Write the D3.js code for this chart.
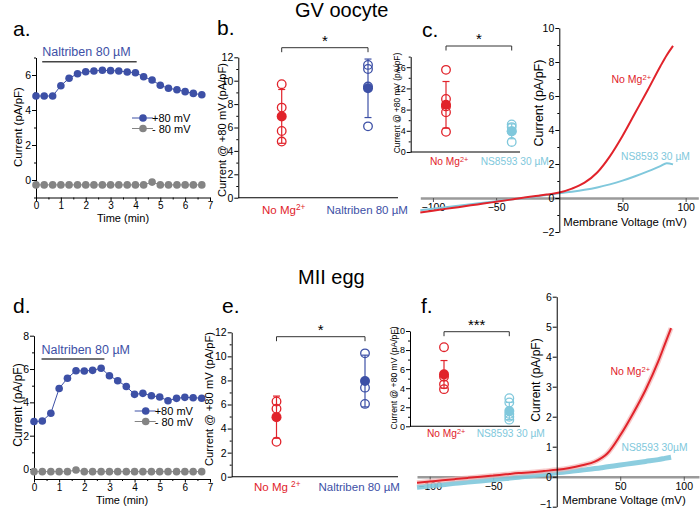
<!DOCTYPE html>
<html><head><meta charset="utf-8">
<script src="https://cdnjs.cloudflare.com/ajax/libs/d3/7.8.5/d3.min.js"></script>
<style>body{margin:0;background:#fff}svg{display:block;font-family:"Liberation Sans",Arial,sans-serif}</style>
</head><body><svg id="c" width="700" height="509"></svg>
<script>
const BLUE="#3d50a6", RED="#e1232b", LBLUE="#80c8dc", GRAY="#848484";
const FONT='"Liberation Sans",Arial,sans-serif';

// ---- time courses (min) ----
const timeMin = [0,0.33,0.67,1,1.33,1.67,2,2.33,2.67,3,3.33,3.67,4,4.33,4.67,5,5.33,5.67,6,6.33,6.67];
const gvPos80 = [4.8,4.8,4.8,5.39,5.81,6.07,6.19,6.23,6.27,6.25,6.23,6.17,6.13,5.9,5.71,5.41,5.24,5.16,5.05,4.95,4.87];
const gvNeg80 = [-0.28,-0.28,-0.28,-0.28,-0.28,-0.28,-0.28,-0.28,-0.28,-0.28,-0.28,-0.28,-0.28,-0.28,-0.12,-0.28,-0.28,-0.28,-0.28,-0.28,-0.28];
const miiPos80 = [2.85,2.88,3.35,4.83,5.45,5.9,5.88,5.92,6.05,5.6,5.3,4.95,4.48,4.54,4.4,4.32,4.1,4.24,4.3,4.28,4.25];
const miiNeg80 = [-0.16,-0.16,-0.16,-0.16,-0.16,-0.06,-0.16,-0.16,-0.16,-0.16,-0.16,-0.16,-0.16,-0.16,-0.16,-0.16,-0.16,-0.16,-0.16,-0.16,-0.16];
const timeTicks = [0,1,2,3,4,5,6,7];
const gvDrug = [0.25,4.05];
const miiDrug = [0.3,2.8];

// ---- dot plots: current @ +80 mV (pA/pF) ----
const gvNaltCats = ["No Mg2+","Naltriben 80 µM"];
const gvNaltVals = [[9.7,7.7,5.7,4.8],[11.35,11.0,9.5,6.1]];
const gvNaltMean = [6.95,9.35];
const gvNaltSD = [2.3,2.5];
const gvNSCats = ["No Mg2+","NS8593 30 µM"];
const gvNSVals = [[15.5,10.0,8.6,7.5,3.8],[5.2,4.7,3.9,1.9]];
const gvNSMean = [8.9,3.9];
const gvNSSD = [4.4,1.4];
const miiNaltVals = [[6.25,5.65,2.9],[10.25,7.4,6.05]];
const miiNaltMean = [4.95,7.95];
const miiNaltSD = [1.75,2.15];
const miiNSVals = [[8.3,5.2,4.4,3.9],[2.95,2.5,1.3,1.0,0.7]];
const miiNSMean = [5.45,1.6];
const miiNSSD = [1.45,0.9];

// ---- I-V curves ----
const voltage = [-110,-100,-90,-80,-70,-60,-50,-40,-30,-20,-10,0,10,20,30,40,50,60,70,80,85,90];
const gvIVNoMg = [-0.85,-0.75,-0.64,-0.54,-0.43,-0.33,-0.22,-0.11,0.0,0.1,0.2,0.32,0.55,0.9,1.5,2.45,3.65,5.0,6.35,7.75,8.4,8.95];
const gvIVNS = [-0.72,-0.63,-0.54,-0.45,-0.37,-0.28,-0.19,-0.1,-0.01,0.08,0.18,0.28,0.37,0.48,0.62,0.8,1.02,1.28,1.57,1.88,2.05,1.98];
const miiIVNoMg = [-0.2,-0.16,-0.12,-0.08,-0.04,0.0,0.04,0.08,0.12,0.15,0.19,0.23,0.29,0.38,0.5,0.78,1.38,2.1,2.9,3.85,4.4,4.95];
const miiIVNS = [-0.35,-0.31,-0.27,-0.22,-0.18,-0.14,-0.1,-0.06,-0.02,0.03,0.08,0.13,0.17,0.22,0.27,0.33,0.39,0.45,0.51,0.57,0.61,0.65];

const svg = d3.select("#c");

function txt(x,y,s,o={}){
  const t=svg.append("text").attr("x",x).attr("y",y).text(s)
    .attr("font-size",o.size||11).attr("fill",o.fill||"#000")
    .attr("text-anchor",o.anchor||"start").attr("font-family",FONT);
  if(o.rotate) t.attr("transform",`rotate(-90,${x},${y})`).attr("dominant-baseline","middle");
  return t;
}
function supTxt(x,y,base,sup,o={}){
  const t=txt(x,y,base,o);
  t.append("tspan").attr("dy","-0.45em").attr("font-size",(o.size||11)*0.72).text(sup);
  return t;
}
function styleAxis(g,fs,col){
  g.attr("font-family",FONT).attr("font-size",fs);
  g.selectAll("text").attr("fill","#000");
  g.selectAll("line").attr("stroke",col||"#000");
  g.select(".domain").attr("stroke",col||"#000");
}
function yAxis(scale,x,major,minor,fs,fmt){
  const g=svg.append("g").attr("transform",`translate(${x},0)`);
  g.call(d3.axisLeft(scale).tickValues(major).tickSize(4).tickSizeOuter(0).tickPadding(1).tickFormat(fmt||d3.format("d")));
  if(minor){const m=g.append("g").call(d3.axisLeft(scale).tickValues(minor).tickSize(2).tickFormat(""));m.select(".domain").remove();}
  styleAxis(g,fs);
  return g;
}
function xAxisTime(scale,y){
  const g=svg.append("g").attr("transform",`translate(0,${y})`);
  g.call(d3.axisBottom(scale).tickValues(timeTicks).tickSize(3.5).tickSizeOuter(0).tickPadding(1).tickFormat(d3.format("d")));
  const m=g.append("g").call(d3.axisBottom(scale).tickValues(timeTicks.slice(0,-1).map(t=>t+0.5)).tickSize(2).tickFormat(""));
  m.select(".domain").remove();
  styleAxis(g,10);
}

// ---------- time course panel ----------
function timePanel(xs,ys,pos,neg,drug,barY,legY,legX){
  const line=d3.line().x((d,i)=>xs(timeMin[i])).y(d=>ys(d));
  svg.append("path").attr("d",line(pos)).attr("fill","none").attr("stroke",BLUE).attr("stroke-width",1);
  svg.append("path").attr("d",line(neg)).attr("fill","none").attr("stroke",GRAY).attr("stroke-width",1);
  svg.append("g").selectAll("circle").data(neg).join("circle")
    .attr("cx",(d,i)=>xs(timeMin[i])).attr("cy",d=>ys(d)).attr("r",3.8).attr("fill",GRAY);
  svg.append("g").selectAll("circle").data(pos).join("circle")
    .attr("cx",(d,i)=>xs(timeMin[i])).attr("cy",d=>ys(d)).attr("r",3.8).attr("fill",BLUE);
  svg.append("line").attr("x1",xs(drug[0])).attr("x2",xs(drug[1])).attr("y1",barY).attr("y2",barY)
    .attr("stroke","#444").attr("stroke-width",1.6);
  txt(xs(drug[0]),barY-5.5,"Naltriben 80 µM",{size:12.5,fill:BLUE});
  [[BLUE,"+80 mV",0],[GRAY,"- 80 mV",10.5]].forEach(([c,l,dy])=>{
    svg.append("line").attr("x1",legX-11).attr("x2",legX+10).attr("y1",legY+dy).attr("y2",legY+dy).attr("stroke",c).attr("stroke-width",1);
    svg.append("circle").attr("cx",legX).attr("cy",legY+dy).attr("r",3.8).attr("fill",c);
    txt(legX+9,legY+dy+4,l,{size:11});
  });
}

// Panel a
{
  const xs=d3.scaleLinear([0,7],[36,210]);
  const ys=d3.scaleLinear([-1,7],[197.5,57.5]);
  yAxis(ys,36,[0,2,4,6],[-1,1,3,5,7],10.5);
  xAxisTime(xs,197.5);
  timePanel(xs,ys,gvPos80,gvNeg80,gvDrug,61.7,118,143);
  txt(19,127,"Current (pA/pF)",{size:11.5,anchor:"middle",rotate:true});
  txt(123,222,"Time (min)",{size:11,anchor:"middle"});
  txt(13,36,"a.",{size:21});
}
// Panel d
{
  const xs=d3.scaleLinear([0,7],[34,210]);
  const ys=d3.scaleLinear([-0.6,8],[479,335.7]);
  yAxis(ys,34,[0,2,4,6,8],[1,3,5,7],10.5);
  xAxisTime(xs,479);
  timePanel(xs,ys,miiPos80,miiNeg80,miiDrug,359,411,145.7);
  txt(19,405,"Current (pA/pF)",{size:12,anchor:"middle",rotate:true});
  txt(122,504,"Time (min)",{size:11,anchor:"middle"});
  txt(13,313,"d.",{size:21});
}

// ---------- dot plot panel ----------
function dotPanel(ys,xPos,vals,means,sds,colors,o){
  yAxis(ys,o.axX,o.major,o.minor,o.fs);
  svg.append("line").attr("x1",o.axX).attr("x2",o.axEnd).attr("y1",ys(0)).attr("y2",ys(0)).attr("stroke","#000").attr("stroke-width",1.1);
  const r=o.r||4.3;
  xPos.forEach((x,i)=>{
    const c=colors[i];
    const lo=ys(means[i]-sds[i]), hi=ys(means[i]+sds[i]);
    svg.append("line").attr("x1",x).attr("x2",x).attr("y1",lo).attr("y2",hi).attr("stroke",c).attr("stroke-width",1.2);
    [lo,hi].forEach(yy=>svg.append("line").attr("x1",x-3.5).attr("x2",x+3.5).attr("y1",yy).attr("y2",yy).attr("stroke",c).attr("stroke-width",1.2));
    svg.append("g").selectAll("circle").data(vals[i]).join("circle")
      .attr("cx",x).attr("cy",d=>ys(d)).attr("r",r).attr("fill","none").attr("stroke",c).attr("stroke-width",1.3);
    svg.append("circle").attr("cx",x).attr("cy",ys(means[i])).attr("r",r+0.7).attr("fill",c);
  });
  const by=o.brY;
  svg.append("path").attr("d",`M${xPos[0]},${by+4.5}V${by}H${xPos[1]}V${by+4.5}`).attr("fill","none").attr("stroke","#333").attr("stroke-width",1);
  txt((xPos[0]+xPos[1])/2,by-2,o.star,{size:o.starSize||15,anchor:"middle"});
}

// Panel b
{
  const ys=d3.scaleLinear([0,12],[197.7,57.3]);
  const xp=d3.scalePoint(gvNaltCats,[281.7,368]);
  const xPos=gvNaltCats.map(c=>xp(c));
  dotPanel(ys,xPos,gvNaltVals,gvNaltMean,gvNaltSD,[RED,BLUE],{axX:238.3,axEnd:398,major:[0,2,4,6,8,10,12],minor:[1,3,5,7,9,11],fs:10.5,brY:47.7,star:"*"});
  supTxt(262,214,"No Mg","2+",{size:11.5,fill:RED});
  txt(326.5,214,"Naltriben 80 µM",{size:11.5,fill:BLUE});
  txt(223,130,"Current @ +80 mV (pA/pF)",{size:11.2,anchor:"middle",rotate:true});
  txt(217,35,"b.",{size:21});
  txt(295,17,"GV oocyte",{size:20});
}
// Panel e
{
  const ys=d3.scaleLinear([0,12],[476.7,332.3]);
  const xp=d3.scalePoint(gvNaltCats,[276.5,365]);
  const xPos=gvNaltCats.map(c=>xp(c));
  dotPanel(ys,xPos,miiNaltVals,miiNaltMean,miiNaltSD,[RED,BLUE],{axX:231.7,axEnd:398,major:[0,2,4,6,8,10,12],minor:[1,3,5,7,9,11],fs:10.5,brY:336.7,star:"*"});
  supTxt(254,491,"No Mg ","2+",{size:11.5,fill:RED});
  txt(318.5,491,"Naltriben 80 µM",{size:11.5,fill:BLUE});
  txt(210,399,"Current @ +80 mV (pA/pF)",{size:11.2,anchor:"middle",rotate:true});
  txt(222,313,"e.",{size:21});
  txt(298,284,"MII egg",{size:20});
}
// Panel c inset
{
  const ys=d3.scaleLinear([0,18],[152,56.6]);
  const xp=d3.scalePoint(gvNSCats,[446,511.7]);
  const xPos=gvNSCats.map(c=>xp(c));
  dotPanel(ys,xPos,gvNSVals,gvNSMean,gvNSSD,[RED,LBLUE],{axX:410.7,axEnd:520,major:[0,4,8,12,16],minor:[2,6,10,14,18],fs:9,brY:46,star:"*"});
  supTxt(430,165,"No Mg","2+",{size:10.2,fill:RED});
  txt(480.7,165,"NS8593 30 µM",{size:10.2,fill:LBLUE});
  txt(398,103,"Current @ +80 mV (pA/pF)",{size:8.4,anchor:"middle",rotate:true});
  txt(422,37,"c.",{size:21});
}
// Panel f inset
{
  const ys=d3.scaleLinear([0,10],[426.3,331]);
  const xp=d3.scalePoint(gvNSCats,[444,509.3]);
  const xPos=gvNSCats.map(c=>xp(c));
  dotPanel(ys,xPos,miiNSVals,miiNSMean,miiNSSD,[RED,LBLUE],{axX:410,axEnd:520,major:[0,2,4,6,8,10],minor:[1,3,5,7,9],fs:9,brY:331.7,star:"***",starSize:15});
  supTxt(427,437,"No Mg","2+",{size:10.2,fill:RED});
  txt(476.7,437,"NS8593 30 µM",{size:10.2,fill:LBLUE});
  txt(394.3,378,"Current @ +80 mV (pA/pF)",{size:8.6,anchor:"middle",rotate:true});
  txt(421,313,"f.",{size:21});
}

// ---------- I-V panels ----------
function ivPanel(xs,ys,noMg,ns,o){
  const gx=svg.append("g").attr("transform",`translate(0,${ys(0)})`);
  gx.call(d3.axisBottom(xs).tickValues([-100,-50,50,100]).tickSize(4).tickSizeOuter(0).tickPadding(2));
  styleAxis(gx,10.5,"#555");
  gx.select(".domain").attr("stroke","#9a9a9a").attr("stroke-width",2.6);
  const line=d3.line().x((d,i)=>xs(voltage[i])).y(d=>ys(d)).curve(d3.curveMonotoneX);
  if(o.band){
    svg.append("path").attr("d",line(ns)).attr("fill","none").attr("stroke",LBLUE).attr("stroke-width",5).attr("opacity",0.9);
    svg.append("path").attr("d",line(noMg)).attr("fill","none").attr("stroke","#f3b3b3").attr("stroke-width",5).attr("opacity",0.7);
    svg.append("path").attr("d",line(noMg)).attr("fill","none").attr("stroke",RED).attr("stroke-width",2);
  } else {
    svg.append("path").attr("d",line(ns)).attr("fill","none").attr("stroke",LBLUE).attr("stroke-width",2);
    svg.append("path").attr("d",line(noMg)).attr("fill","none").attr("stroke",RED).attr("stroke-width",2);
  }
  const g=yAxis(ys,xs(0),o.major,o.minor,10.5);
  if(o.lowNudge) g.selectAll(".tick text").filter(d=>d===o.major[0]).attr("dy","0.05em");
}
// Panel c main
{
  const xs=d3.scaleLinear([-110,110],[420.3,698.3]);
  const ys=d3.scaleLinear([-2,10],[232,28]);
  ivPanel(xs,ys,gvIVNoMg,gvIVNS,{major:[-2,0,2,4,6,8,10],minor:[-1,1,3,5,7,9]});
  txt(540,103,"Current (pA/pF)",{size:12.5,anchor:"middle",rotate:true});
  txt(625,226,"Membrane Voltage (mV)",{size:11.4,anchor:"middle"});
  supTxt(611.5,83,"No Mg","2+",{size:10.5,fill:RED});
  txt(621,160,"NS8593 30 µM",{size:10.3,fill:LBLUE});
}
// Panel f main
{
  const xs=d3.scaleLinear([-110,112],[417,699]);
  const ys=d3.scaleLinear([-1,6],[506.7,296.7]);
  ivPanel(xs,ys,miiIVNoMg,miiIVNS,{major:[-1,0,1,2,3,4,5,6],minor:null,band:true,lowNudge:true});
  txt(536.7,380,"Current (pA/pF)",{size:12,anchor:"middle",rotate:true});
  txt(624,503.5,"Membrane Voltage (mV)",{size:11.4,anchor:"middle"});
  supTxt(610.5,375,"No Mg","2+",{size:10.5,fill:RED});
  txt(621.5,451,"NS8593 30µM",{size:10.3,fill:LBLUE});
}
</script></body></html>
